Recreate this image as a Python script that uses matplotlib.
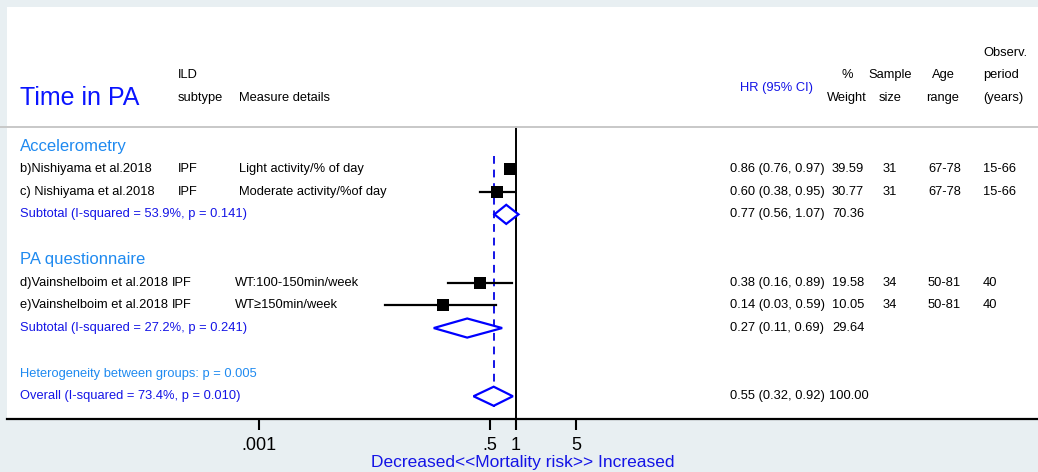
import numpy as np
import matplotlib.pyplot as plt
from matplotlib.transforms import blended_transform_factory
from matplotlib.patches import Polygon

plt.rcParams['font.family'] = ['Liberation Sans', 'DejaVu Sans']

# study rows
studies = ['b)Nishiyama et al.2018', 'c) Nishiyama et al.2018',
           'd)Vainshelboim et al.2018', 'e)Vainshelboim et al.2018']
ild = ['IPF', 'IPF', 'IPF', 'IPF']
measures = ['Light activity/% of day', 'Moderate activity/%of day',
            'WT:100-150min/week', 'WT\u2265150min/week']
hr = [0.86, 0.60, 0.38, 0.14]
lo = [0.76, 0.38, 0.16, 0.03]
hi = [0.97, 0.95, 0.89, 0.59]
weight = ['39.59', '30.77', '19.58', '10.05']
sample = ['31', '31', '34', '34']
age = ['67-78', '67-78', '50-81', '50-81']
period = ['15-66', '15-66', '40', '40']
study_rows = [2, 3, 7, 8]

# pooled estimates
groups = ['Accelerometry', 'PA questionnaire']
group_rows = [1, 6]
sub_labels = ['Subtotal (I-squared = 53.9%, p = 0.141)',
              'Subtotal (I-squared = 27.2%, p = 0.241)']
sub_hr = [0.77, 0.27]
sub_lo = [0.56, 0.11]
sub_hi = [1.07, 0.69]
sub_weight = ['70.36', '29.64']
sub_rows = [4, 9]

het_label = 'Heterogeneity between groups: p = 0.005'
overall_label = 'Overall (I-squared = 73.4%, p = 0.010)'
overall_hr, overall_lo, overall_hi = 0.55, 0.32, 0.92
overall_weight = '100.00'

xticks = [0.001, 0.5, 1, 5]
xtick_labels = ['.001', '.5', '1', '5']

BG = '#e8eff2'
DARK_BLUE = '#1414e6'
LIGHT_BLUE = '#1f8af0'

W, H = 1038, 472
fig = plt.figure(figsize=(W / 100, H / 100), dpi=100, facecolor=BG)
ax = fig.add_axes([7 / W, (H - 419) / H, 1 - 7 / W, (419 - 7) / H])
ax.set_facecolor('white')
ax.set_xscale('log')
ax.set_xlim(10 ** -5.932, 10 ** 6.084)
ax.set_ylim(13.0, -5.12)
for s in ['top', 'left', 'right']:
    ax.spines[s].set_visible(False)
ax.spines['bottom'].set_linewidth(1.6)
ax.set_yticks([])
ax.set_xticks(xticks)
ax.set_xticklabels(xtick_labels, fontsize=13)
ax.minorticks_off()
ax.tick_params(axis='x', length=8, width=1.5, pad=5)
ax.set_xlabel('Decreased<<Mortality risk>> Increased', color=DARK_BLUE,
              fontsize=12.5, labelpad=1)

# text columns: x in figure pixels, y in rows
trf = blended_transform_factory(fig.transFigure, ax.transData)


def put(x, y, s, **kw):
    kw.setdefault('fontsize', 9.3)
    kw.setdefault('va', 'center')
    ax.text(x / W, y, s, transform=trf, **kw)


# header
put(20, -1.13, 'Time in PA', fontsize=18, color='#0a14ff')
put(178, -2.12, 'ILD')
put(178, -1.13, 'subtype')
put(239, -1.13, 'Measure details')
put(776, -1.55, 'HR (95% CI)', color=DARK_BLUE, ha='center')
put(847, -2.12, '%', ha='center')
put(847, -1.13, 'Weight', ha='center')
put(890, -2.12, 'Sample', ha='center')
put(890, -1.13, 'size', ha='center')
put(943, -2.12, 'Age', ha='center')
put(943, -1.13, 'range', ha='center')
put(983, -3.09, 'Observ.')
put(983, -2.12, 'period')
put(983, -1.13, '(years)')
ax.plot([0, 1], [0.16, 0.16], transform=trf, color='#c8c8c8', lw=1.4,
        clip_on=False)

# null line and overall dashed line
ax.plot([1, 1], [0.16, 13.0], color='black', lw=1.4, zorder=1)
ax.plot([overall_hr, overall_hr], [1.45, 12.48], color=DARK_BLUE, lw=1.4,
        ls=(0, (4, 3)), zorder=1)


def fmt(h, l, u):
    return '%.2f (%.2f, %.2f)' % (h, l, u)


for g, r in zip(groups, group_rows):
    put(20, r, g, fontsize=12, color=LIGHT_BLUE)

ild_x = [178, 178, 172, 172]
meas_x = [239, 239, 235, 235]
for i, r in enumerate(study_rows):
    ax.plot([lo[i], hi[i]], [r, r], color='black', lw=1.6, zorder=2)
    ax.plot(hr[i], r, marker='s', color='black', ms=8, mew=0, zorder=3)
    put(20, r, studies[i])
    put(ild_x[i], r, ild[i])
    put(meas_x[i], r, measures[i])
    put(730, r, fmt(hr[i], lo[i], hi[i]))
    put(832, r, weight[i])
    put(890, r, sample[i], ha='center')
    put(928, r, age[i])
    put(983, r, period[i])


def diamond(h, l, u, r):
    d = 0.42
    ax.add_patch(Polygon([[l, r], [h, r - d], [u, r], [h, r + d]],
                         closed=True, facecolor='white',
                         edgecolor='#0000ff', lw=1.6, zorder=4))


for i, r in enumerate(sub_rows):
    diamond(sub_hr[i], sub_lo[i], sub_hi[i], r)
    put(20, r, sub_labels[i], color=DARK_BLUE)
    put(730, r, fmt(sub_hr[i], sub_lo[i], sub_hi[i]))
    put(832, r, sub_weight[i])

put(20, 11, het_label, color=LIGHT_BLUE)
put(20, 12, overall_label, color=DARK_BLUE)
diamond(overall_hr, overall_lo, overall_hi, 12)
put(730, 12, fmt(overall_hr, overall_lo, overall_hi))
put(829, 12, overall_weight)

fig.savefig('out.png', dpi=100, facecolor=BG)
